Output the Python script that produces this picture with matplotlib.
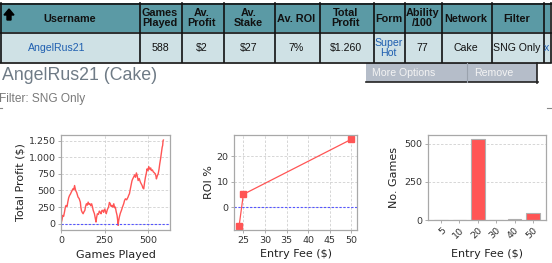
import matplotlib
matplotlib.use("Agg")
import matplotlib.pyplot as plt
from matplotlib.patches import Rectangle, Polygon

# ---------------- data ----------------
headers = ["Username", "Games\nPlayed", "Av.\nProfit", "Av.\nStake", "Av. ROI",
           "Total\nProfit", "Form", "Ability\n/100", "Network", "Filter", ""]
row_values = ["AngelRus21", "588", "$2", "$27", "7%", "$1.260", "Super\nHot",
              "77", "Cake", "SNG Only", "x"]
player_title = "AngelRus21 (Cake)"
filter_text = "Filter: SNG Only"

games_played = [0, 6, 10, 15, 20, 25, 29, 35, 39, 44, 49, 54, 59, 64, 68, 73, 78, 84,
                90, 98, 104, 111, 114, 117, 122, 127, 132, 137, 141, 146, 151, 156,
                161, 166, 171, 176, 181, 185, 192, 197, 201, 205, 209, 215, 220, 225,
                230, 235, 240, 245, 250, 254, 260, 266, 273, 278, 283, 288, 293, 298,
                303, 308, 312, 317, 322, 325, 328, 331, 335, 341, 347, 353, 360, 365,
                370, 377, 385, 389, 393, 398, 404, 408, 412, 417, 423, 428, 433, 438,
                443, 449, 456, 461, 466, 470, 475, 480, 485, 490, 494, 499, 504, 510,
                515, 519, 525, 530, 533, 538, 542, 545, 548, 553, 558, 563, 567, 572,
                577, 581, 584, 586, 588]
total_profit = [0, 60, 125, 110, 175, 250, 275, 260, 325, 390, 425, 445, 475, 500, 525,
                510, 575, 500, 470, 400, 380, 325, 250, 200, 170, 150, 180, 200, 260,
                300, 280, 325, 290, 300, 270, 300, 250, 200, 150, 80, 25, 100, 150, 140,
                190, 175, 150, 200, 200, 170, 220, 200, 150, 210, 250, 320, 300, 260,
                275, 250, 300, 240, 250, 180, 125, 60, -25, 40, 100, 160, 200, 250, 300,
                350, 375, 360, 400, 430, 450, 520, 600, 650, 675, 700, 735, 700, 765,
                720, 650, 680, 625, 600, 575, 540, 525, 620, 700, 760, 825, 800, 860,
                820, 840, 800, 810, 780, 775, 760, 750, 720, 675, 720, 750, 820, 900,
                980, 1075, 1150, 1180, 1250, 1260]

roi_fee = [24, 25, 50]
roi_pct = [-7.5, 5.1, 26.7]

fee_labels = ["5", "10", "20", "30", "40", "50"]
fee_games = [1, 1, 535, 1, 5, 45]

# ---------------- figure ----------------
W, H = 552, 263
fig = plt.figure(figsize=(W / 100, H / 100), dpi=100)
fig.patch.set_facecolor("white")

# overlay in pixel coordinates for the page parts
ov = fig.add_axes([0, 0, 1, 1])
ov.set_xlim(0, W)
ov.set_ylim(H, 0)
ov.axis("off")

col_edges = [0, 139, 181, 223, 274, 319, 373, 404, 441, 491, 543, 550]
y_top, y_mid, y_bot = 3, 32, 62
head_col = "#5b9aa5"
row_col = "#cfe1e5"
ov.add_patch(Rectangle((0, y_top), 550, y_mid - y_top, facecolor=head_col, edgecolor="none"))
ov.add_patch(Rectangle((0, y_mid), 550, y_bot - y_mid, facecolor=row_col, edgecolor="none"))
for x in col_edges:
    ov.plot([x + 0.5, x + 0.5], [y_top, y_bot], color="#111111", lw=1.2)
for y in (y_top, y_mid, y_bot):
    ov.plot([0, 550.5], [y + 0.5, y + 0.5], color="#111111", lw=1.2)

tfont = "Liberation Sans"
for i, h in enumerate(headers):
    cx = (col_edges[i] + col_edges[i + 1]) / 2
    if i == 0:
        cx = 70
    ov.text(cx, (y_top + y_mid) / 2 + 1, h, ha="center", va="center", fontsize=7.8,
            fontweight="bold", family=tfont, color="#111111", linespacing=1.0)
# sort arrow
ov.add_patch(Polygon([[4, 15], [9, 9], [14, 15], [11, 15], [11, 20], [7, 20], [7, 15]],
                     closed=True, facecolor="black", edgecolor="black"))
for i, v in enumerate(row_values):
    cx = (col_edges[i] + col_edges[i + 1]) / 2
    color = "#111111"
    ha = "center"
    if i == 0:
        cx, ha, color = 28, "left", "#1f5fb0"
    if i in (6, 10):
        color = "#1f5fb0"
    ov.text(cx, (y_mid + y_bot) / 2 + 1, v, ha=ha, va="center", fontsize=7.6,
            family=tfont, color=color, linespacing=1.0)

# title + filter
ov.text(2, 76, player_title, ha="left", va="center", fontsize=12.8, family=tfont,
        color="#6f7b86")
ov.text(-1, 99, filter_text, ha="left", va="center", fontsize=8.6, family=tfont,
        color="#7a7a7a")

# buttons
ov.add_patch(Rectangle((366, 63), 171, 19, facecolor="#b5bdc9", edgecolor="none"))
ov.plot([537, 537], [63, 82.5], color="#222222", lw=1.2)
ov.plot([366, 537.5], [82, 82], color="#222222", lw=1.2)
ov.plot([467, 467], [63, 82], color="#9aa2ad", lw=0.8)
ov.text(372, 72.5, "More Options", ha="left", va="center", fontsize=7.6,
        family=tfont, color="#f4f4f4")
ov.text(474, 72.5, "Remove", ha="left", va="center", fontsize=7.6,
        family=tfont, color="#f4f4f4")
ov.plot([0, 2], [108, 108], color="#888888", lw=0.8)
ov.plot([547, 552], [108, 108], color="#888888", lw=0.8)

# ---------------- charts ----------------
cfont = "DejaVu Sans"
red = "#ff5555"
grid_kw = dict(color="#d0d0d0", linestyle=(0, (3, 2)), linewidth=0.6)


def style(ax):
    ax.set_facecolor("white")
    for s in ax.spines.values():
        s.set_color("#a8a8a8")
        s.set_linewidth(0.9)
    ax.tick_params(length=2, width=0.6, color="#a0a0a0", labelsize=6.8,
                   labelcolor="#333333", pad=2)
    for lab in ax.get_xticklabels() + ax.get_yticklabels():
        lab.set_family(cfont)


def fpx(l, r, b, t):
    return [l / W, 1 - b / H, (r - l) / W, (b - t) / H]


# chart 1
ax1 = fig.add_axes(fpx(61, 170, 230, 135))
ax1.plot(games_played, total_profit, color=red, lw=1.0)
ax1.axhline(0, color="#5555ff", lw=0.8, linestyle=(0, (2, 1.5)))
ax1.set_xlim(0, 626)
ax1.set_ylim(-95, 1336)
ax1.set_xticks([0, 250, 500])
ax1.set_yticks([0, 250, 500, 750, 1000, 1250])
ax1.set_yticklabels(["0", "250", "500", "750", "1.000", "1.250"])
ax1.grid(True, **grid_kw)
ax1.set_axisbelow(True)
ax1.set_xlabel("Games Played", fontsize=8, family=cfont, labelpad=4, color="#222222")
ax1.set_ylabel("Total Profit ($)", fontsize=8, family=cfont, labelpad=2, color="#222222")
style(ax1)

# chart 2
ax2 = fig.add_axes(fpx(234.3, 357.3, 230, 135))
ax2.plot(roi_fee, roi_pct, color=red, lw=0.9, marker="s", markersize=5,
         markerfacecolor=red, markeredgecolor=red)
ax2.axhline(0, color="#5555ff", lw=0.8, linestyle=(0, (2, 1.5)))
ax2.set_xlim(22.9, 51.4)
ax2.set_ylim(-8.9, 28.4)
ax2.set_xticks([25, 30, 35, 40, 45, 50])
ax2.set_yticks([0, 10, 20])
ax2.grid(True, **grid_kw)
ax2.set_axisbelow(True)
ax2.set_xlabel("Entry Fee ($)", fontsize=8, family=cfont, labelpad=3.5, color="#222222")
ax2.set_ylabel("ROI %", fontsize=8, family=cfont, labelpad=2, color="#222222")
style(ax2)

# chart 3
ax3 = fig.add_axes(fpx(428.3, 545.7, 220, 135))
pos = list(range(len(fee_labels)))
ax3.bar(pos, fee_games, width=0.76, color=red, edgecolor="#b0b0b0", linewidth=0.8)
ax3.set_xlim(-0.7, 5.7)
ax3.set_ylim(0, 559)
ax3.set_xticks(pos)
ax3.set_xticklabels(fee_labels, rotation=45, ha="right", rotation_mode="anchor")
ax3.set_yticks([0, 250, 500])
ax3.yaxis.grid(True, **grid_kw)
ax3.set_axisbelow(True)
ax3.set_xlabel("Entry Fee ($)", fontsize=8, family=cfont, labelpad=6, color="#222222")
ax3.set_ylabel("No. Games", fontsize=8, family=cfont, labelpad=4, color="#222222")
style(ax3)

fig.savefig("out.png", dpi=100, facecolor="white")
